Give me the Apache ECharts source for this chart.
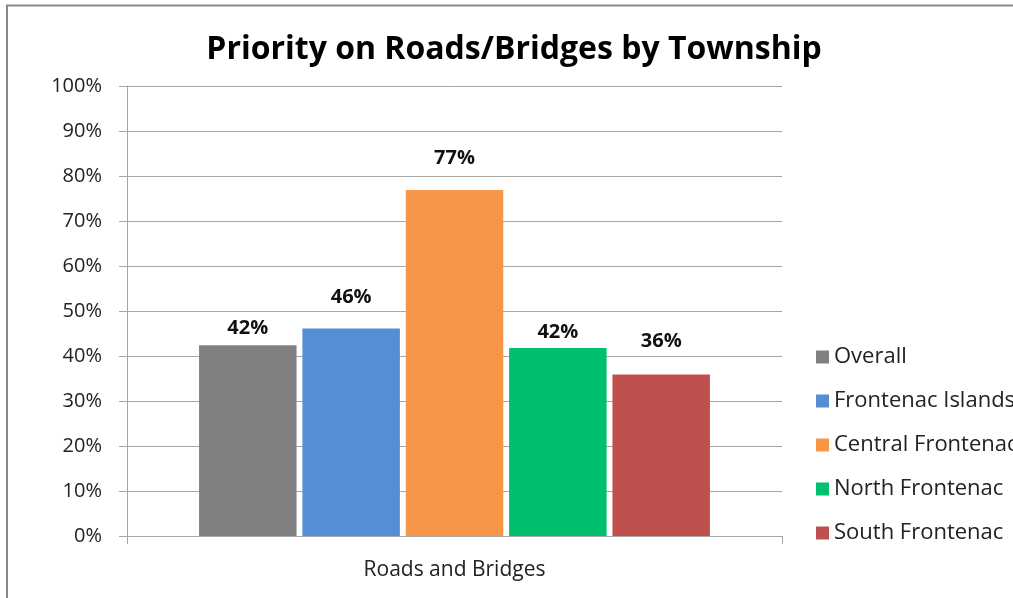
<!DOCTYPE html>
<html>
<head>
<meta charset="utf-8">
<script src="https://cdn.jsdelivr.net/npm/echarts@6/dist/echarts.min.js"></script>
<style>
  html, body { margin: 0; padding: 0; background: #fff; }
  #chart { width: 1013px; height: 598px; }
</style>
</head>
<body>
<div id="chart"></div>
<script>
// Survey results: share ranking roads and bridges as a priority
const categories = ['Roads and Bridges'];
const seriesNames = ['Overall', 'Frontenac Islands', 'Central Frontenac', 'North Frontenac', 'South Frontenac'];
const overall = [42.4];
const frontenacIslands = [46.1];
const centralFrontenac = [76.9];
const northFrontenac = [41.8];
const southFrontenac = [35.9];
const yTicks = { min: 0, max: 100, interval: 10 };
const colors = ['#808080', '#558ed5', '#f79646', '#00bf6f', '#c0504d'];
// space between each bar top and its value label
const labelDistances = [7, 21, 22, 6, 23];

const seriesValues = [overall, frontenacIslands, centralFrontenac, northFrontenac, southFrontenac];
const FONT = 'Open Sans, Liberation Sans, sans-serif';

const chart = echarts.init(document.getElementById('chart'), null, { renderer: 'canvas' });
chart.setOption({
  animation: false,
  color: colors,
  title: {
    text: 'Priority on Roads/Bridges by Township',
    left: 514,
    textAlign: 'center',
    top: 34,
    padding: 0,
    textStyle: { fontFamily: FONT, fontSize: 32, fontWeight: 'bold', color: '#000' }
  },
  graphic: [{
    type: 'rect',
    shape: { x: 7, y: 5.5, width: 1200, height: 800 },
    style: { fill: 'none', stroke: '#888888', lineWidth: 2 },
    silent: true
  }],
  legend: {
    orient: 'vertical',
    left: 816,
    top: 346,
    padding: 0,
    itemWidth: 13,
    itemHeight: 13,
    itemGap: 22,
    icon: 'rect',
    textStyle: { fontFamily: FONT, fontSize: 22, color: '#222' },
    data: seriesNames
  },
  grid: { left: 127, right: 231, top: 86, bottom: 62, containLabel: false },
  xAxis: {
    type: 'category',
    data: categories,
    axisLine: { lineStyle: { color: '#a6a6a6', width: 1 } },
    axisTick: { show: true, length: 8, lineStyle: { color: '#a6a6a6' } },
    axisLabel: { fontFamily: FONT, fontSize: 21, color: '#222', margin: 24 }
  },
  yAxis: {
    type: 'value',
    min: yTicks.min,
    max: yTicks.max,
    interval: yTicks.interval,
    axisLine: { show: true, lineStyle: { color: '#a6a6a6', width: 1 } },
    axisTick: { show: true, length: 8, lineStyle: { color: '#a6a6a6' } },
    axisLabel: { fontFamily: FONT, fontSize: 20, color: '#222', margin: 25, formatter: v => v + '%' },
    splitLine: { lineStyle: { color: '#a6a6a6', width: 1 } }
  },
  series: seriesNames.map((name, i) => ({
    name,
    type: 'bar',
    data: seriesValues[i],
    barGap: '6%',
    barCategoryGap: '22%',
    label: {
      show: true,
      position: 'top',
      distance: labelDistances[i],
      fontFamily: FONT,
      fontSize: 20,
      fontWeight: 'bold',
      color: '#111',
      formatter: p => Math.round(p.value) + '%'
    }
  }))
});
</script>
</body>
</html>
